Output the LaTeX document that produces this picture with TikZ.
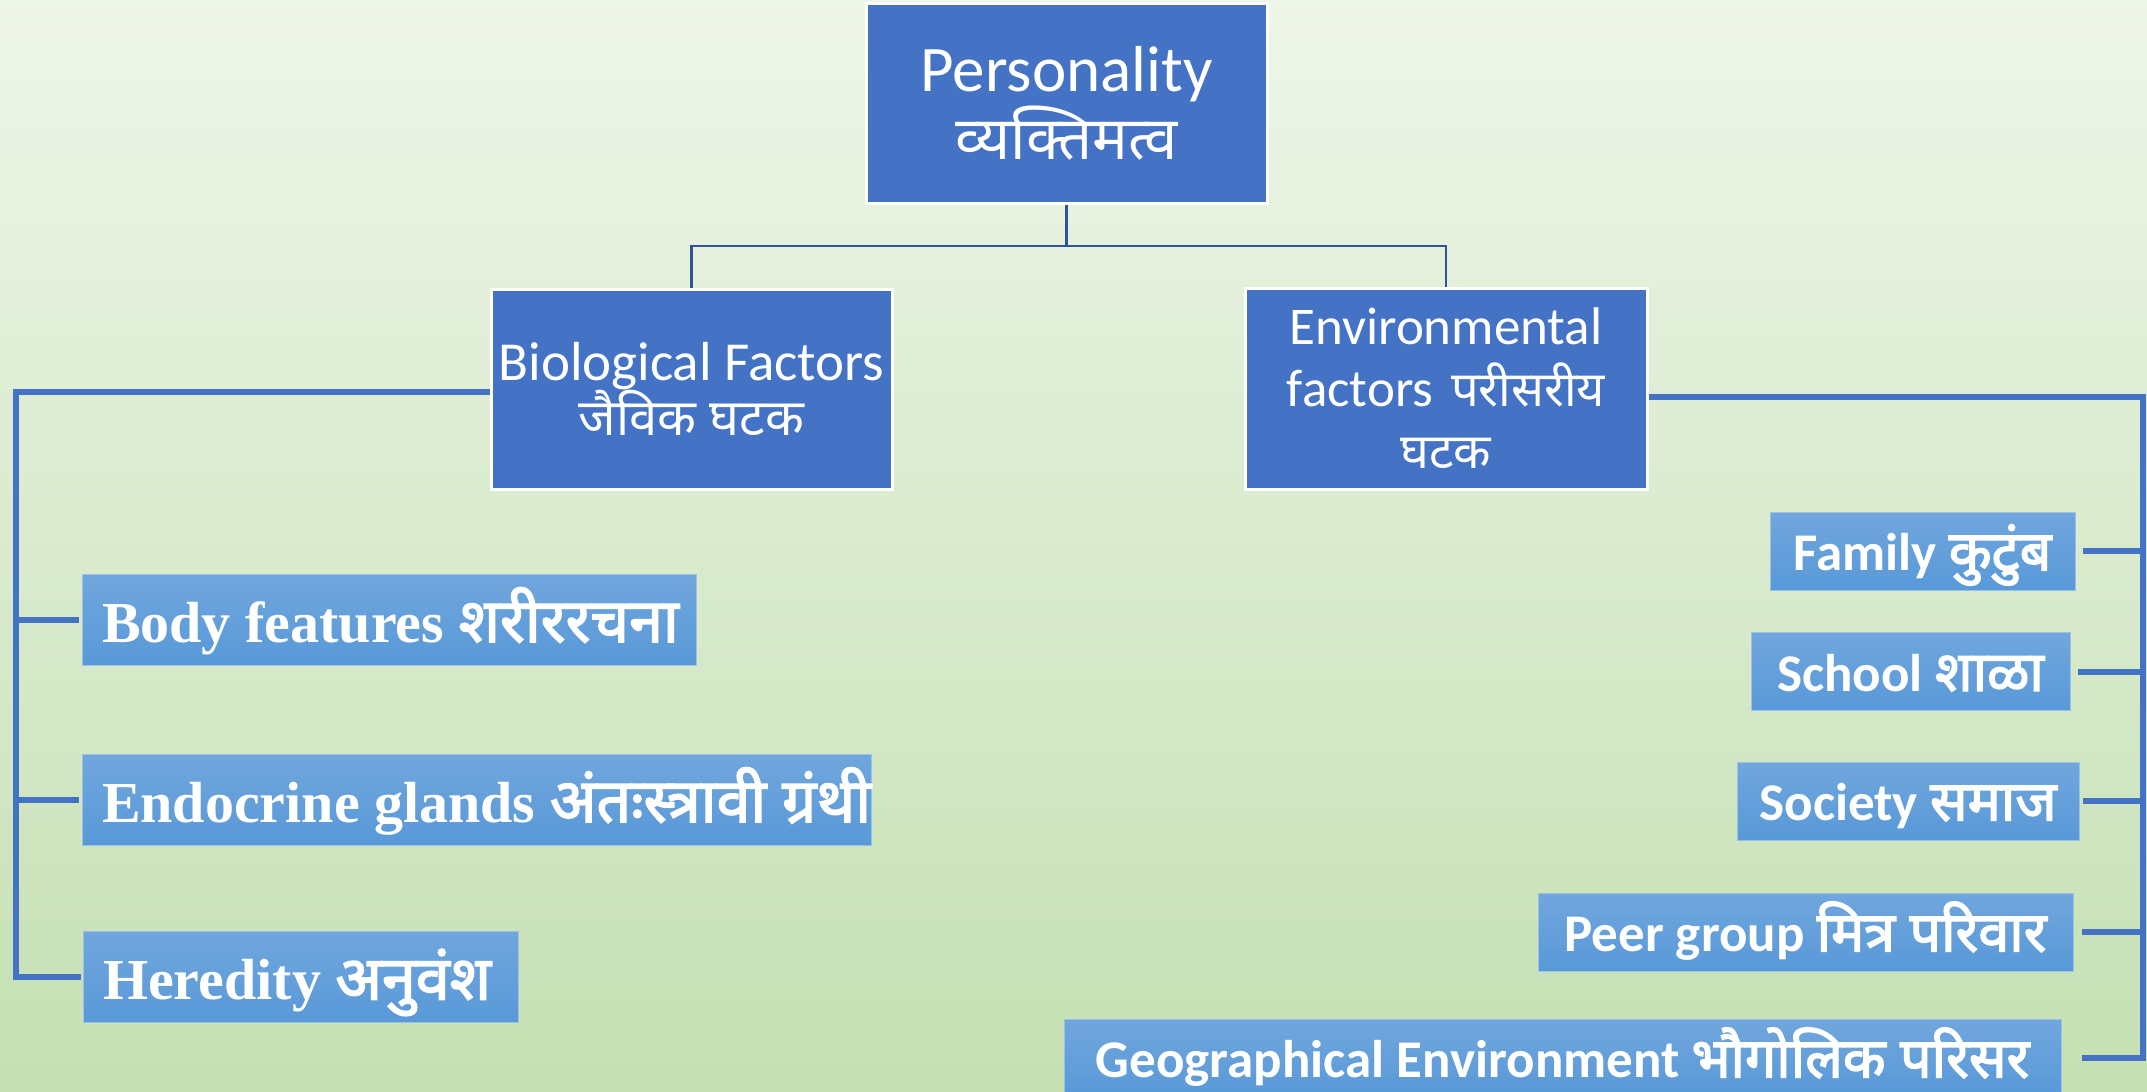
\documentclass[tikz,border=0pt]{standalone}
\usepackage{fontspec}
\setmainfont{Carlito}
\newfontfamily\dev[Script=Devanagari, Scale=0.92]{Noto Sans}
\newfontfamily\devb[Script=Devanagari, FakeBold=2.5, Scale=1.05]{Noto Sans}
\newfontfamily\tnr{Liberation Serif}
\definecolor{boxblue}{HTML}{4472C4}
\definecolor{linedark}{HTML}{2F5597}
\definecolor{lighttop}{HTML}{71A6DD}
\definecolor{lightbot}{HTML}{5899D8}
\definecolor{bgtop}{HTML}{EEF5E9}
\definecolor{bgbot}{HTML}{C5E0B3}
\begin{document}
\begin{tikzpicture}[x=1pt,y=-1pt,
  mainbox/.style={fill=boxblue, draw=white, line width=3pt, text=white, inner sep=0pt, align=center},
  subbox/.style={top color=lighttop, bottom color=lightbot, draw=lighttop!70!white, line width=1pt, text=white, inner sep=0pt},
  leftbox/.style={subbox, minimum height=91pt, text height=58pt, text depth=13pt, font={\fontsize{58}{64}\selectfont\bfseries}},
  rightbox/.style={subbox, align=center, minimum height=78pt, text height=51pt, text depth=12pt, font={\fontsize{53}{58}\selectfont\bfseries}},
  tree/.style={draw=linedark, line width=2.5pt},
  side/.style={draw=boxblue, line width=6pt}
]
\useasboundingbox (0,0) rectangle (2147,1092);
\shade[top color=bgtop, bottom color=bgbot] (0,0) rectangle (2147,1092);

\node[mainbox, minimum width=401pt, minimum height=200pt, font={\fontsize{65}{68}\selectfont}] (P) at (1066.5,103) {Personality\\{\dev व्यक्तिमत्व}};
\node[mainbox, minimum width=401pt, minimum height=200pt, font={\fontsize{55}{48}\selectfont}] (Bio) at (691.5,389) {Biological Factors\\{\dev जैविक घटक}};
\node[mainbox, minimum width=402pt, minimum height=201pt, text width=380pt, font={\fontsize{53}{62}\selectfont}] (Env) at (1446,388.5) {Environmental\\factors {\dev परीसरीय}\\{\dev घटक}};

\coordinate (J) at (1066.5,246);
\draw[tree] (P.south) -- (J);
\draw[tree] (Bio.north) |- (J) -| (Env.north);

\node[leftbox, minimum width=614pt] (Body) at (389,619.5) {\makebox[574pt][l]{\tnr Body features {\devb शरीररचना}}};
\node[leftbox, minimum width=789pt] (Endo) at (476.5,799.5) {\makebox[749pt][l]{\tnr Endocrine glands {\devb अंतःस्त्रावी ग्रंथी}}};
\node[leftbox, minimum width=435pt] (Her) at (300.5,977) {\makebox[395pt][l]{\tnr Heredity {\devb अनुवंश}}};

\coordinate (L) at (16,0);
\draw[side, shorten >=2pt] ([yshift=-3pt]Bio.west) -| (L |- Her.west) -- (Her.west);
\draw[side, shorten >=3pt] (L |- Body.west) -- (Body.west);
\draw[side, shorten >=3pt] (L |- Endo.west) -- (Endo.west);

\node[rightbox, minimum width=305pt] (Fam) at (1922.5,551) {Family {\devb कुटुंब}};
\node[rightbox, minimum width=319pt] (Sch) at (1910.5,671.5) {School {\devb शाळा}};
\node[rightbox, minimum width=342pt] (Soc) at (1908,801) {Society {\devb समाज}};
\node[rightbox, minimum width=535pt] (Peer) at (1805.5,932) {Peer group {\devb मित्र परिवार}};
\node[rightbox, minimum width=997pt] (Geo) at (1562.5,1058) {Geographical Environment {\devb भौगोलिक परिसर}};

\coordinate (R) at (2143,0);
\draw[side, shorten >=20pt] ([yshift=-8.5pt]Env.east) -| (R |- Geo.east) -- (Geo.east);
\draw[side, shorten >=7pt] (R |- Fam.east) -- (Fam.east);
\draw[side, shorten >=7pt] (R |- Sch.east) -- (Sch.east);
\draw[side, shorten >=3pt] (R |- Soc.east) -- (Soc.east);
\draw[side, shorten >=8pt] (R |- Peer.east) -- (Peer.east);
\end{tikzpicture}
\end{document}
